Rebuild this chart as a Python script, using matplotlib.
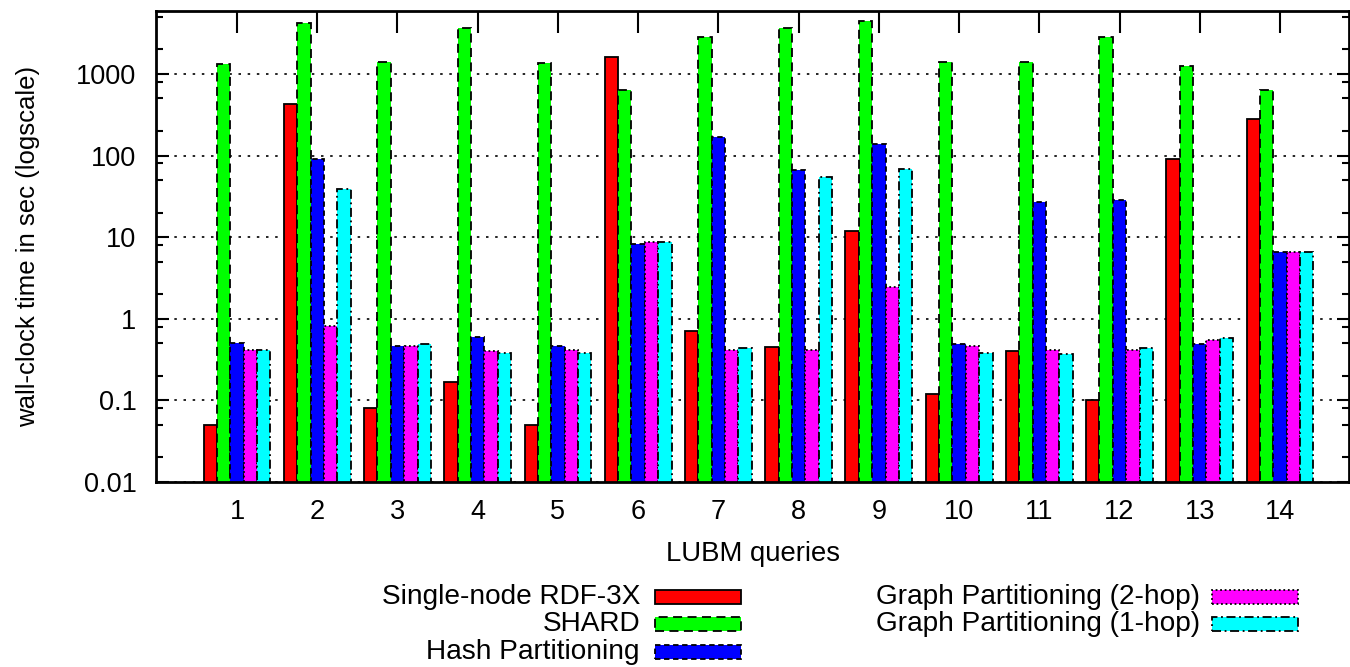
import numpy as np
import matplotlib
matplotlib.use('Agg')
import matplotlib.pyplot as plt
from matplotlib.patches import Rectangle
from matplotlib.ticker import LogLocator, NullFormatter

plt.rcParams['font.family'] = ['Liberation Sans', 'DejaVu Sans']

# data (seconds, log scale)
queries = list(range(1, 15))
series = ['Single-node RDF-3X', 'SHARD', 'Hash Partitioning',
          'Graph Partitioning (2-hop)', 'Graph Partitioning (1-hop)']
rdf3x = [0.05, 425, 0.08, 0.17, 0.05, 1600, 0.71, 0.45, 11.9, 0.12, 0.40, 0.10, 91, 283]
shard = [1310, 4250, 1390, 3630, 1370, 640, 2820, 3630, 4500, 1390, 1390, 2800, 1250, 640]
hash_part = [0.50, 91, 0.47, 0.60, 0.46, 8.3, 170, 67, 139, 0.49, 26.7, 28.6, 0.49, 6.6]
graph_2hop = [0.41, 0.82, 0.47, 0.40, 0.42, 8.8, 0.42, 0.42, 2.43, 0.47, 0.42, 0.42, 0.55, 6.6]
graph_1hop = [0.42, 38.6, 0.49, 0.38, 0.385, 8.6, 0.44, 55, 68, 0.385, 0.367, 0.44, 0.58, 6.6]
ytick_vals = [0.01, 0.1, 1, 10, 100, 1000]
ytick_labels = ['0.01', '0.1', '1', '10', '100', '1000']

values = [rdf3x, shard, hash_part, graph_2hop, graph_1hop]
colors = ['#ff0000', '#00ff00', '#0000ff', '#ff00ff', '#00ffff']
styles = ['-', (0, (5, 3)), (0, (3, 2)), (0, (1, 1.5)), (0, (5, 2, 1, 2))]
FS = 19.5

W, H = 1350, 667
fig = plt.figure(figsize=(W / 100, H / 100), dpi=100)
ax = fig.add_axes([156 / W, 1 - 482 / H, (1349 - 156) / W, (482 - 11) / H])

x = np.array(queries, dtype=float)
bw = 1 / 6.0
for j, (vals, c, ls) in enumerate(zip(values, colors, styles)):
    ax.bar(x + (j - 2) * bw, np.array(vals) - 1e-3, bw, bottom=1e-3,
           color=c, edgecolor='black', linewidth=1.3, linestyle=ls, zorder=2)

ax.set_yscale('log')
ax.set_ylim(0.01, 5900)
ax.set_xlim(-0.01, 14.86)
ax.set_yticks(ytick_vals)
ax.set_yticklabels(ytick_labels)
ax.yaxis.set_minor_locator(LogLocator(base=10, subs=(2, 5, 8)))
ax.yaxis.set_minor_formatter(NullFormatter())
ax.set_xticks(x)
ax.set_xticklabels([str(q) for q in queries])

ax.tick_params(axis='y', which='major', direction='in', length=9, width=1.5,
               right=True, labelsize=FS, pad=14)
ax.tick_params(axis='y', which='minor', direction='in', length=5, width=1.5, right=True)
ax.tick_params(axis='x', direction='in', length=16, width=1.5, top=True, bottom=False,
               labelsize=FS, pad=12)
for sp in ax.spines.values():
    sp.set_linewidth(2)

ax.yaxis.grid(True, which='major', color='black', linestyle=(0, (1.5, 4)), linewidth=1.2)
ax.set_axisbelow(True)

ax.set_xlabel('LUBM queries', fontsize=FS + 0.3, labelpad=12)
ax.set_ylabel('wall-clock time in sec (logscale)', fontsize=18.5, labelpad=26)

# legend, gnuplot style: right-aligned text followed by a sample box
text_right = [640, 640, 640, 1200, 1200]
box_left = [655, 655, 655, 1212, 1212]
rows = [597, 624, 652, 597, 624]
for name, c, ls, tx, bx, ry in zip(series, colors, styles, text_right, box_left, rows):
    fig.text(tx / W, 1 - ry / H, name, ha='right', va='center', fontsize=20.2)
    fig.add_artist(Rectangle((bx / W, 1 - (ry + 7) / H), 86 / W, 14 / H,
                             transform=fig.transFigure, facecolor=c,
                             edgecolor='black', linewidth=1.3, linestyle=ls))

fig.savefig('out.png', dpi=100)
